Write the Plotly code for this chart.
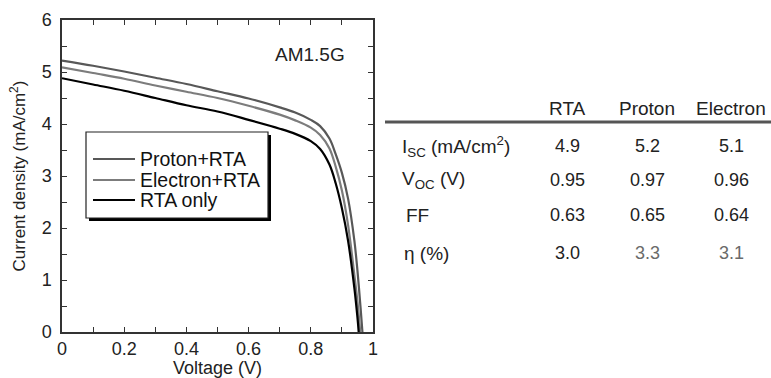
import plotly.graph_objects as go

W, H = 771, 378
FONT = "Arial, Liberation Sans, sans-serif"

# ---- J-V data ----
v_proton = [0, 0.1, 0.2, 0.3, 0.4, 0.5, 0.6, 0.7, 0.75, 0.8, 0.83, 0.86, 0.88, 0.9, 0.92, 0.94, 0.95, 0.96, 0.966]
j_proton = [5.22, 5.12, 5.01, 4.89, 4.77, 4.63, 4.49, 4.32, 4.22, 4.08, 3.96, 3.72, 3.42, 3.06, 2.56, 1.76, 1.18, 0.47, 0.0]

v_electron = [0, 0.1, 0.2, 0.3, 0.4, 0.5, 0.6, 0.7, 0.75, 0.8, 0.83, 0.86, 0.88, 0.9, 0.92, 0.94, 0.95, 0.959]
j_electron = [5.09, 4.98, 4.87, 4.74, 4.62, 4.50, 4.35, 4.18, 4.07, 3.93, 3.79, 3.53, 3.18, 2.72, 2.05, 1.10, 0.58, 0.0]

v_rta = [0, 0.1, 0.2, 0.3, 0.4, 0.5, 0.6, 0.7, 0.75, 0.8, 0.83, 0.86, 0.88, 0.9, 0.92, 0.94, 0.95, 0.954]
j_rta = [4.88, 4.76, 4.64, 4.50, 4.36, 4.24, 4.08, 3.91, 3.81, 3.67, 3.52, 3.22, 2.86, 2.38, 1.75, 0.85, 0.28, 0.0]

series_names = ["Proton+RTA", "Electron+RTA", "RTA only"]
series_colors = ["#585858", "#7c7c7c", "#000000"]

# ---- table data ----
table_cols = ["RTA", "Proton", "Electron"]
table_rows = ["I<sub>SC</sub> (mA/cm<sup>2</sup>)", "V<sub>OC</sub> (V)", "FF", "η (%)"]
isc_vals = ["4.9", "5.2", "5.1"]
voc_vals = ["0.95", "0.97", "0.96"]
ff_vals = ["0.63", "0.65", "0.64"]
eta_vals = ["3.0", "3.3", "3.1"]
table_values = [isc_vals, voc_vals, ff_vals, eta_vals]

fig = go.Figure()
for vx, jy, name, color in zip([v_proton, v_electron, v_rta], [j_proton, j_electron, j_rta],
                               series_names, series_colors):
    fig.add_trace(go.Scatter(x=vx, y=jy, mode="lines", name=name,
                             line=dict(color=color, width=2.2), line_shape="spline",
                             showlegend=False))

px = lambda p: p / W
py = lambda p: 1 - p / H

axis_common = dict(
    showgrid=False, zeroline=False, showline=True, linecolor="#333333", linewidth=1.5,
    mirror="allticks", ticks="inside", ticklen=5, tickcolor="#333333", tickwidth=1.2,
    tickfont=dict(family=FONT, size=18, color="#222222"), automargin=False,
)

fig.update_layout(
    width=W, height=H, margin=dict(l=0, r=0, t=0, b=0, autoexpand=False),
    paper_bgcolor="white", plot_bgcolor="white",
    font=dict(family=FONT, color="#222222"),
    xaxis=dict(domain=[px(62), px(373)], range=[0, 1], tickvals=[0, 0.2, 0.4, 0.6, 0.8, 1],
               ticktext=["0", "0.2", "0.4", "0.6", "0.8", "1"],
               minor=dict(dtick=0.1, ticks="inside", ticklen=5, tickcolor="#333333"),
               title=dict(text="Voltage (V)", font=dict(family=FONT, size=18, color="#222222"), standoff=1),
               **axis_common),
    yaxis=dict(domain=[py(332), py(20)], range=[0, 6], dtick=1, ticklabelstandoff=5,
               minor=dict(dtick=0.5, ticks="inside", ticklen=5, tickcolor="#333333"),
               title=dict(text="Current density (mA/cm<sup>2</sup>)", font=dict(family=FONT, size=17, color="#222222"), standoff=12),
               **axis_common),
    showlegend=False,
)

# ---- legend box (drawn as in the original figure, with drop shadow) ----
lg_x0, lg_x1, lg_y0, lg_y1 = 86, 268, 132, 218
fig.add_shape(type="rect", xref="paper", yref="paper",
              x0=px(lg_x0 + 3), x1=px(lg_x1 + 3), y0=py(lg_y1 + 3), y1=py(lg_y0 + 3),
              fillcolor="black", line=dict(width=0))
fig.add_shape(type="rect", xref="paper", yref="paper",
              x0=px(lg_x0), x1=px(lg_x1), y0=py(lg_y1), y1=py(lg_y0),
              fillcolor="white", line=dict(color="#222222", width=1.2))
legend_row_y = [159, 180, 200]
for ry, name, color in zip(legend_row_y, series_names, series_colors):
    fig.add_shape(type="line", xref="paper", yref="paper",
                  x0=px(93), x1=px(135), y0=py(ry), y1=py(ry),
                  line=dict(color=color, width=2.2))
    fig.add_annotation(text=name, xref="paper", yref="paper", x=px(138), y=py(ry),
                       xanchor="left", yanchor="middle", showarrow=False,
                       font=dict(family=FONT, size=19.5, color="#111111"))

fig.add_annotation(text="AM1.5G", xref="paper", yref="paper", x=px(310), y=py(55),
                   xanchor="center", yanchor="middle", showarrow=False,
                   font=dict(family=FONT, size=19, color="#222222"))

# ---- table ----
col_x = [567, 647, 731]
header_y = 108
row_y = [146, 180, 215, 253]
row_label_x = [400, 400, 404, 402]
for cx, name in zip(col_x, table_cols):
    fig.add_annotation(text=name, xref="paper", yref="paper", x=px(cx), y=py(header_y),
                       xanchor="center", yanchor="middle", showarrow=False,
                       font=dict(family=FONT, size=19, color="#222222"))
fig.add_shape(type="line", xref="paper", yref="paper", x0=px(385), x1=1, y0=py(122), y1=py(122),
              line=dict(color="#555555", width=3))
for ry, lx, label, vals in zip(row_y, row_label_x, table_rows, table_values):
    fig.add_annotation(text=label, xref="paper", yref="paper", x=px(lx), y=py(ry),
                       xanchor="left", yanchor="middle", showarrow=False,
                       font=dict(family=FONT, size=19, color="#222222"))
    for i, (cx, v) in enumerate(zip(col_x, vals)):
        color = "#222222"
        if ry == row_y[-1] and i > 0:
            color = "#6a6a6a"
        fig.add_annotation(text=v, xref="paper", yref="paper", x=px(cx), y=py(ry),
                           xanchor="center", yanchor="middle", showarrow=False,
                           font=dict(family=FONT, size=18, color=color))

fig.write_html("out.html")
